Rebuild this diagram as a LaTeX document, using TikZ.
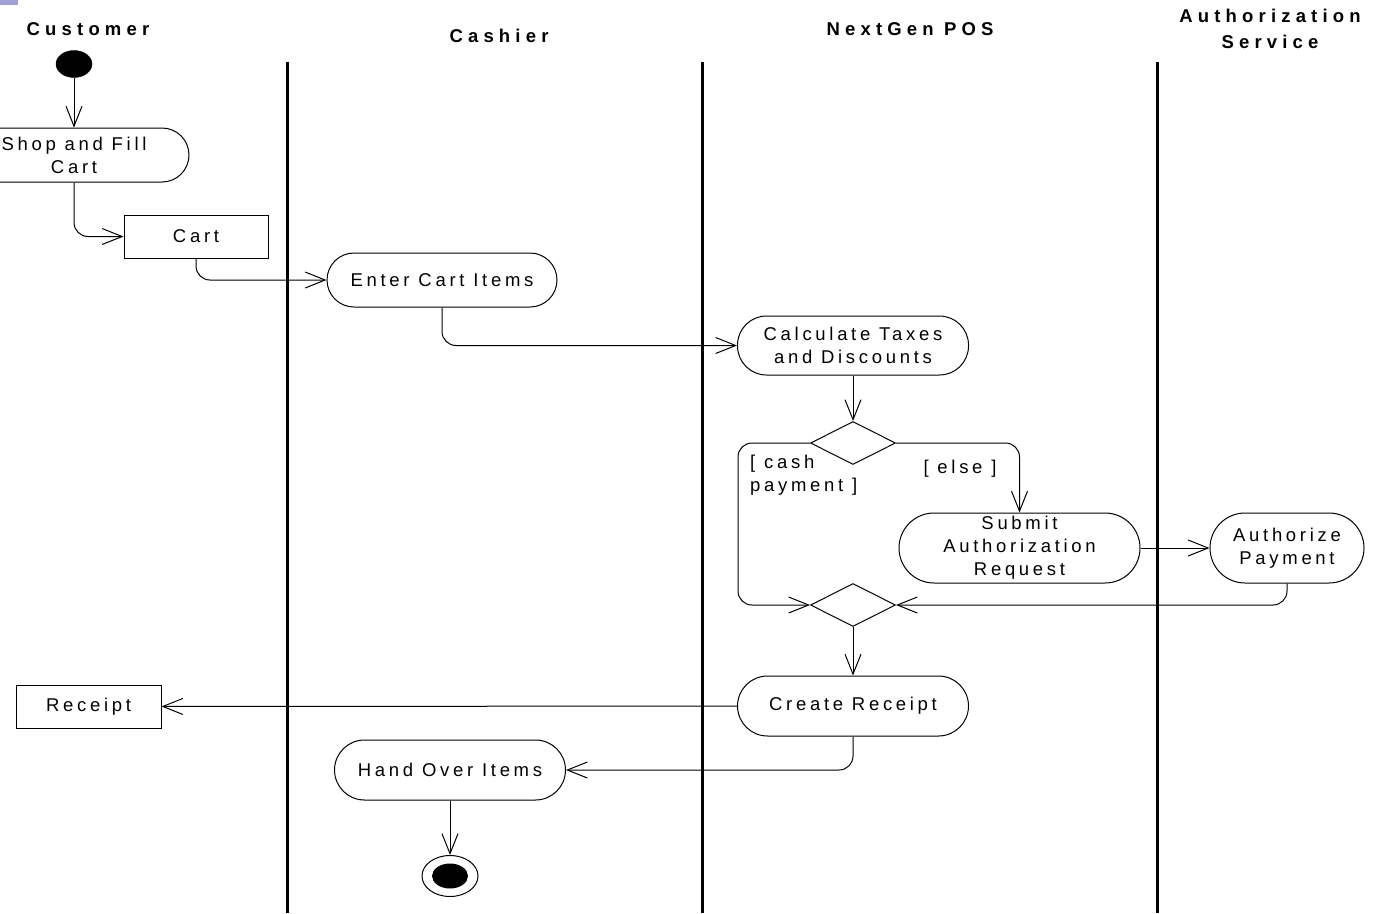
\documentclass[tikz,border=0pt]{standalone}
\usepackage{fontspec}
\setmainfont{Liberation Sans}[LetterSpace=20]
\usepackage{tikz}
\usetikzlibrary{shapes.geometric,arrows.meta}

\newcommand{\actfont}{\fontsize{18.5}{23}\selectfont}
\newcommand{\lanefont}{\fontsize{18.5}{26}\selectfont\bfseries\addfontfeatures{LetterSpace=28}}
\definecolor{cornermark}{RGB}{160,160,212}

\tikzset{
	lane/.style={line width=3pt},
	head/.style={font=\lanefont, align=center, inner sep=0pt},
	act/.style={draw, line width=1pt, rounded corners=#1, font=\actfont, align=center, inner sep=0pt},
	act/.default=27pt,
	obj/.style={draw, line width=1pt, font=\actfont, minimum height=43pt, inner sep=0pt},
	branch/.style={draw, diamond, line width=1pt, minimum width=85pt, minimum height=43pt, inner sep=0pt},
	guard/.style={font=\actfont, align=left, inner sep=0pt},
	flow/.style={line width=1pt, rounded corners=14pt, -{Straight Barb[length=20pt,width=16pt]}},
}

\begin{document}
\begin{tikzpicture}[x=1pt,y=-1pt]
	\useasboundingbox (0,0) rectangle (1378,913);
	\fill[cornermark] (0,0) rectangle (18,5);

	\node[head] (customer) at (88,29) {Customer};
	\node[head] (cashier) at (499,36) {Cashier};
	\node[head] (pos) at (910,29) {NextGen POS};
	\node[head] (authsvc) at (1270,29) {Authorization\\Service};

	\draw[lane] (287,62) -- (287,913);
	\draw[lane] (702,62) -- (702,913);
	\draw[lane] (1157,62) -- (1157,913);

	\node[draw, fill, ellipse, minimum width=36pt, minimum height=27pt, inner sep=0pt] (start) at (74,64) {};
	\node[act, minimum width=230pt, minimum height=54pt] (shop) at (74,155) {Shop and Fill\\Cart};
	\node[obj, minimum width=144pt] (cart) at (196,236.5) {Cart};
	\node[act, minimum width=230pt, minimum height=54pt] (enter) at (442,280) {Enter Cart Items};
	\node[act=29pt, minimum width=231pt, minimum height=59pt] (calc) at (853,345.5) {Calculate Taxes\\and Discounts};
	\node[branch] (decide) at (853,443) {};
	\node[guard, anchor=north west] (cashlbl) at (750,455) {[ cash\\payment ]};
	\node[guard] (elselbl) at (960,469) {[ else ]};
	\node[act=35pt, minimum width=241pt, minimum height=70pt] (submit) at (1019.5,548) {Submit\\Authorization\\Request};
	\node[act=35pt, minimum width=154pt, minimum height=70pt] (authorize) at (1287,548) {Authorize\\Payment};
	\node[branch] (merge) at (853,605) {};
	\node[act=30pt, minimum width=231pt, minimum height=60pt] (create) at (853,706) {Create Receipt};
	\node[obj, minimum width=145pt] (receipt) at (88.5,706.5) {Receipt};
	\node[act=30pt, minimum width=231pt, minimum height=60pt] (handover) at (450,770) {Hand Over Items};
	\node[draw, line width=1pt, ellipse, minimum width=56pt, minimum height=41pt, inner sep=0pt] (stop) at (450,876) {};
	\node[fill, ellipse, minimum width=36pt, minimum height=25pt, inner sep=0pt] (stopdot) at (stop) {};

	\coordinate (cashturn) at (738,605);

	\draw[flow] (start) -- (shop);
	\draw[flow] (shop.south) |- (cart.west);
	\draw[flow] (cart.south) |- (enter.west);
	\draw[flow] (enter.south) |- (calc.west);
	\draw[flow] (calc) -- (decide);
	\draw[flow] (decide.west) -| (cashturn) -- (merge.west);
	\draw[flow] (decide.east) -| (submit.north);
	\draw[flow] (submit) -- (authorize);
	\draw[flow] (authorize.south) |- (merge.east);
	\draw[flow] (merge) -- (create);
	\draw[flow] (create) -- (receipt);
	\draw[flow] (create.south) |- (handover.east);
	\draw[flow] (handover) -- (stop);
\end{tikzpicture}
\end{document}
